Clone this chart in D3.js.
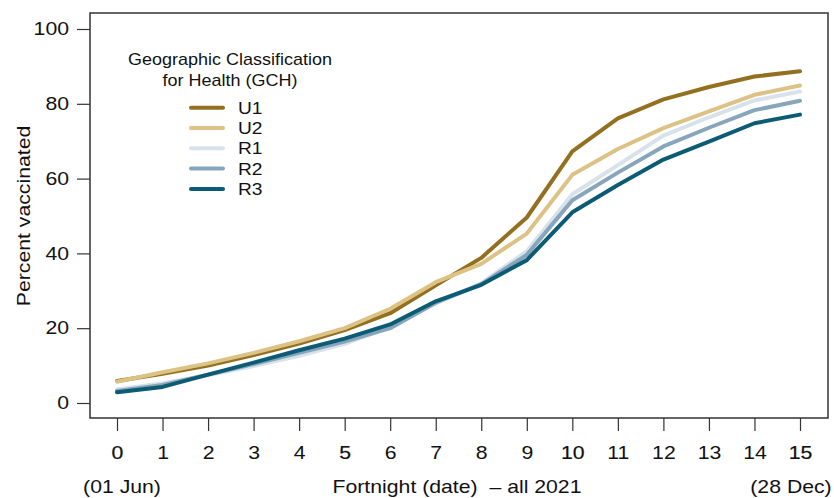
<!DOCTYPE html>
<html>
<head>
<meta charset="utf-8">
<script src="https://cdn.jsdelivr.net/npm/d3@7"></script>
<style>
  body { margin: 0; background: #fff; }
  svg text { font-family: "Liberation Sans", Arial, sans-serif; fill: #111; }
</style>
</head>
<body>
<div class="chart"></div>
<script>
// fortnights 0..15
let fortnights = d3.range(0, 16);
let groups = ["U1", "U2", "R1", "R2", "R3"];
let colors = ["#93701f", "#dcc385", "#d8e2ea", "#87a6bb", "#0b5b74"];

let u1 = [5.9, 7.8, 10.0, 12.8, 15.9, 19.5, 24.0, 31.5, 38.8, 49.6, 67.3, 76.1, 81.2, 84.5, 87.3, 88.7];
let u2 = [5.7, 8.2, 10.6, 13.4, 16.5, 20.0, 25.2, 32.3, 37.2, 45.3, 61.0, 67.9, 73.5, 78.0, 82.4, 84.9];
let r1 = [3.6, 5.3, 7.4, 9.9, 12.6, 15.8, 20.3, 26.6, 32.0, 40.6, 55.8, 63.6, 71.5, 76.4, 80.9, 83.3];
let r2 = [3.2, 4.8, 7.6, 10.4, 13.4, 16.4, 20.0, 26.8, 31.8, 39.6, 54.2, 61.6, 68.6, 73.6, 78.3, 80.8];
let r3 = [2.9, 4.3, 7.6, 10.8, 14.1, 17.2, 21.0, 27.2, 31.6, 38.2, 51.0, 58.3, 65.1, 69.9, 74.8, 77.1];
let series = [u1, u2, r1, r2, r3];

let yTicks = [0, 20, 40, 60, 80, 100];

let width = 834, height = 498;
let box = {left: 90, top: 13, right: 828, bottom: 418};
let sx = 1.18; // the original type is set wide

let svg = d3.select(".chart").append("svg")
  .attr("width", width)
  .attr("height", height);

let x = d3.scaleLinear().domain([0, 15]).range([117, 800]);
let y = d3.scaleLinear().domain([0, 100]).range([403, 29]);

function label(px, py, str, size, anchor, k, rot) {
  return svg.append("text")
    .attr("transform", "translate(" + px + "," + py + ")" + (rot ? " rotate(" + rot + ")" : "") + " scale(" + k + ",1)")
    .attr("text-anchor", anchor)
    .attr("font-size", size)
    .attr("xml:space", "preserve")
    .text(str);
}

// plot frame
svg.append("rect")
  .attr("x", box.left).attr("y", box.top)
  .attr("width", box.right - box.left)
  .attr("height", box.bottom - box.top)
  .attr("fill", "none")
  .attr("stroke", "#333")
  .attr("stroke-width", 1.5);

// y axis
let yAxis = svg.append("g")
  .attr("transform", "translate(" + box.left + ",0)")
  .call(d3.axisLeft(y).tickValues(yTicks).tickSize(13));
yAxis.select(".domain").remove();
yAxis.selectAll("line").attr("stroke", "#333").attr("stroke-width", 1.2);
yAxis.selectAll("text")
  .attr("font-size", 18)
  .attr("fill", "#111")
  .attr("x", -21 / sx)
  .attr("transform", "scale(" + sx + ",1)");

// x axis
let xAxis = svg.append("g")
  .attr("transform", "translate(0," + box.bottom + ")")
  .call(d3.axisBottom(x).tickValues(fortnights).tickSize(13).tickPadding(15).tickFormat(d3.format("d")));
xAxis.select(".domain").remove();
xAxis.selectAll("line").attr("stroke", "#333").attr("stroke-width", 1.2);
xAxis.selectAll("text")
  .attr("font-size", 18)
  .attr("fill", "#111")
  .attr("transform", "scale(" + sx + ",1)")
  .attr("stroke", d => d % 5 == 0 ? "#111" : "none")
  .attr("stroke-width", 0.2);

// lines
let line = d3.line()
  .x((d, i) => x(fortnights[i]))
  .y(d => y(d));

svg.selectAll(".series")
  .data(series)
  .enter()
  .append("path")
  .attr("class", "series")
  .attr("d", d => line(d))
  .attr("fill", "none")
  .attr("stroke", (d, i) => colors[i])
  .attr("stroke-width", 4)
  .attr("stroke-linejoin", "round")
  .attr("stroke-linecap", "round");

// axis titles
label(30, y(50), "Percent vaccinated", 18, "middle", sx, -90);
label(457, 493, "Fortnight (date)  \u2013 all 2021", 18, "middle", sx);
label(122, 493, "(01 Jun)", 18, "middle", sx);
label(791, 493, "(28 Dec)", 18, "middle", sx);

// legend
label(230, 65, "Geographic Classification", 16, "middle", 1.125);
label(230, 86, "for Health (GCH)", 16, "middle", 1.125);

let rows = svg.selectAll(".row")
  .data(groups)
  .enter()
  .append("g")
  .attr("class", "row")
  .attr("transform", (d, i) => "translate(0," + (107.7 + i * 20.3) + ")");

rows.append("line")
  .attr("x1", 191).attr("x2", 223)
  .attr("y1", 0).attr("y2", 0)
  .attr("stroke", (d, i) => colors[i])
  .attr("stroke-width", 4)
  .attr("stroke-linecap", "round");

rows.append("text")
  .attr("transform", "translate(238,6) scale(1.13,1)")
  .attr("font-size", 17)
  .text(d => d);
</script>
</body>
</html>
